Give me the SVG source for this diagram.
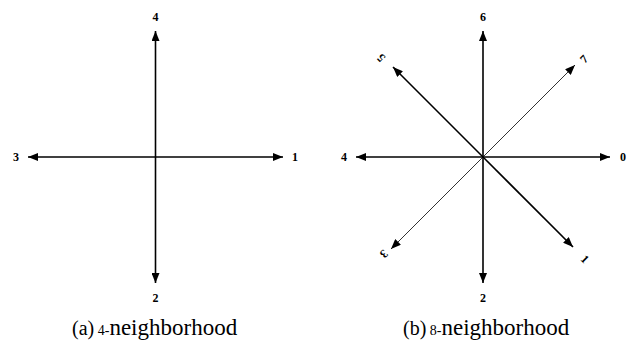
<svg xmlns="http://www.w3.org/2000/svg" width="635" height="344" viewBox="0 0 635 344">
<style>
.lbl{font-family:"Liberation Serif",serif;font-weight:bold;font-size:12px;text-anchor:middle}
.cap{font-family:"Liberation Serif",serif;fill:#000}
.thick{stroke:#000;stroke-width:1.6;fill:none}
.thin{stroke:#000;stroke-width:0.8;fill:none}
</style>
<defs>
<marker id="ah" viewBox="0 0 10 8" refX="10" refY="4" markerWidth="10" markerHeight="8" markerUnits="userSpaceOnUse" orient="auto">
<path d="M0,0 L10,4 L0,8 Z" fill="#000"/>
</marker>
</defs>
<rect width="635" height="344" fill="#fff"/>
<g id="connectors">
<line class="thick" x1="155.5" y1="157" x2="155.5" y2="31" marker-end="url(#ah)"/>
<line class="thick" x1="155.5" y1="157" x2="155.5" y2="283" marker-end="url(#ah)"/>
<line class="thick" x1="155.5" y1="157" x2="28" y2="157" marker-end="url(#ah)"/>
<line class="thick" x1="155.5" y1="157" x2="283" y2="157" marker-end="url(#ah)"/>
<line class="thick" x1="483" y1="157" x2="483" y2="31" marker-end="url(#ah)"/>
<line class="thick" x1="483" y1="157" x2="483" y2="283" marker-end="url(#ah)"/>
<line class="thick" x1="483" y1="157" x2="356" y2="157" marker-end="url(#ah)"/>
<line class="thick" x1="483" y1="157" x2="610" y2="157" marker-end="url(#ah)"/>
<line class="thick" x1="483" y1="157" x2="393" y2="67" marker-end="url(#ah)"/>
<line class="thick" x1="483" y1="157" x2="573" y2="247" marker-end="url(#ah)"/>
<line class="thin" x1="483" y1="157" x2="575" y2="65" marker-end="url(#ah)"/>
<line class="thin" x1="483" y1="157" x2="391" y2="249" marker-end="url(#ah)"/>
</g>
<g id="node-a">
<text class="lbl" x="155.5" y="21">4</text>
<text class="lbl" x="295" y="161">1</text>
<text class="lbl" x="155.5" y="302">2</text>
<text class="lbl" x="16" y="161">3</text>
<text class="cap" y="335"><tspan x="72" font-size="20">(a)</tspan><tspan font-size="14"> 4-</tspan><tspan font-size="23">neighborhood</tspan></text>
</g>
<g id="node-b">
<text class="lbl" x="483" y="21">6</text>
<text class="lbl" x="623" y="161">0</text>
<text class="lbl" x="483" y="302">2</text>
<text class="lbl" x="344" y="161">4</text>
<text class="lbl" transform="translate(381,58) rotate(-135)" y="4">5</text>
<text class="lbl" transform="translate(584,59) rotate(-45)" y="4">7</text>
<text class="lbl" transform="translate(585,259) rotate(45)" y="4">1</text>
<text class="lbl" transform="translate(384,254) rotate(135)" y="4">3</text>
<text class="cap" y="335"><tspan x="403" font-size="20">(b)</tspan><tspan font-size="14"> 8-</tspan><tspan font-size="23">neighborhood</tspan></text>
</g>
</svg>
